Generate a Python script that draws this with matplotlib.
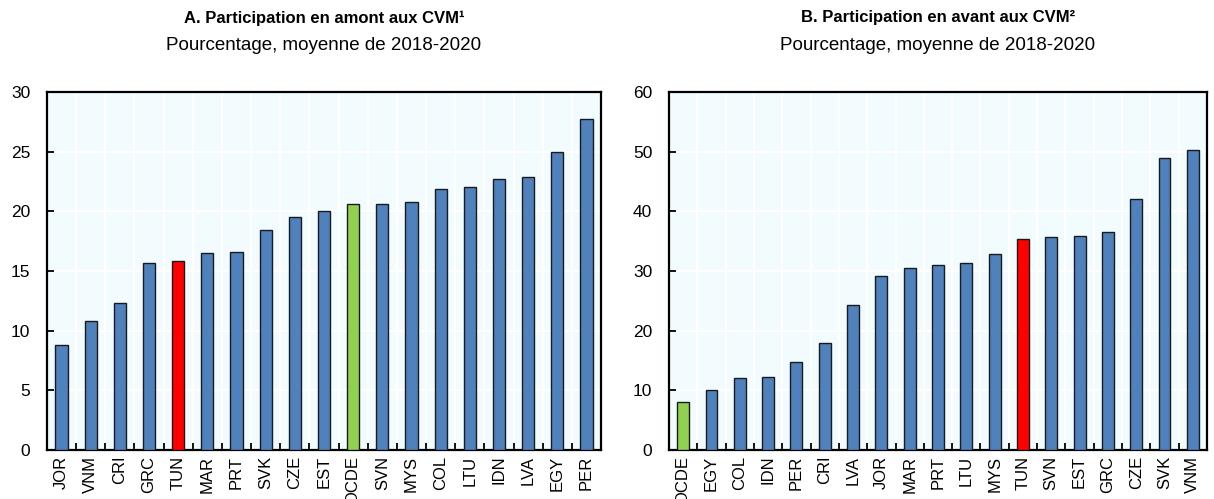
import matplotlib
matplotlib.use('Agg')
import matplotlib.pyplot as plt
import numpy as np

plt.rcParams['font.family'] = ['Liberation Sans Narrow', 'Liberation Sans', 'DejaVu Sans']

# Panel A: upstream participation
countriesA = ['JOR', 'VNM', 'CRI', 'GRC', 'TUN', 'MAR', 'PRT', 'SVK', 'CZE', 'EST',
              'OCDE', 'SVN', 'MYS', 'COL', 'LTU', 'IDN', 'LVA', 'EGY', 'PER']
valuesA = [8.8, 10.8, 12.3, 15.7, 15.8, 16.5, 16.6, 18.4, 19.5, 20.0,
           20.6, 20.6, 20.8, 21.9, 22.0, 22.7, 22.9, 25.0, 27.7]

# Panel B: forward participation
countriesB = ['OCDE', 'EGY', 'COL', 'IDN', 'PER', 'CRI', 'LVA', 'JOR', 'MAR', 'PRT',
              'LTU', 'MYS', 'TUN', 'SVN', 'EST', 'GRC', 'CZE', 'SVK', 'VNM']
valuesB = [8.1, 10.1, 12.0, 12.3, 14.8, 18.0, 24.3, 29.2, 30.5, 31.0,
           31.4, 32.8, 35.3, 35.7, 35.9, 36.6, 42.0, 49.0, 50.3]

blue = '#4F81BD'
red = '#FF0000'
green = '#92D050'


def bar_colors(names):
    cols = []
    for n in names:
        if n == 'TUN':
            cols.append(red)
        elif n == 'OCDE':
            cols.append(green)
        else:
            cols.append(blue)
    return cols


def draw_panel(ax, names, vals, ymax, step, title, subtitle):
    x = np.arange(len(names))
    ax.set_facecolor('#F2FCFF')
    ax.bar(x, vals, width=0.42, color=bar_colors(names), edgecolor='#1a1a1a',
           linewidth=1.0, zorder=3)
    ax.set_xlim(-0.5, len(names) - 0.5)
    ax.set_ylim(0, ymax)
    ax.set_yticks(np.arange(0, ymax + 0.1, step))
    ax.set_xticks(x)
    ax.set_xticklabels(names, rotation=90, fontsize=12)
    ax.set_xticks(np.arange(0.5, len(names) - 0.5, 1), minor=True)
    ax.tick_params(axis='x', which='major', length=0, pad=4)
    ax.tick_params(axis='x', which='minor', direction='in', length=5, width=1.3)
    ax.tick_params(axis='y', direction='in', length=5, width=1.3, labelsize=12.5, pad=12)
    ax.grid(True, axis='y', which='major', color='white', linewidth=1.5, zorder=0)
    ax.grid(True, axis='x', which='minor', color='white', linewidth=1.5, zorder=0)
    ax.set_axisbelow(True)
    for s in ax.spines.values():
        s.set_linewidth(1.6)
        s.set_color('black')
    ax.text(0.5, 1.207, title, transform=ax.transAxes, ha='center', va='center',
            fontsize=12, fontweight='bold')
    ax.text(0.5, 1.131, subtitle, transform=ax.transAxes, ha='center', va='center',
            fontsize=13.5)


fig = plt.figure(figsize=(12.14, 4.99), dpi=100)
axA = fig.add_axes([47 / 1214, 1 - 450 / 499, 554 / 1214, 358 / 499])
axB = fig.add_axes([669 / 1214, 1 - 450 / 499, 538 / 1214, 358 / 499])

draw_panel(axA, countriesA, valuesA, 30, 5,
           'A. Participation en amont aux CVM\u00b9',
           'Pourcentage, moyenne de 2018-2020')
draw_panel(axB, countriesB, valuesB, 60, 10,
           'B. Participation en avant aux CVM\u00b2',
           'Pourcentage, moyenne de 2018-2020')

fig.savefig('out.png', dpi=100)
